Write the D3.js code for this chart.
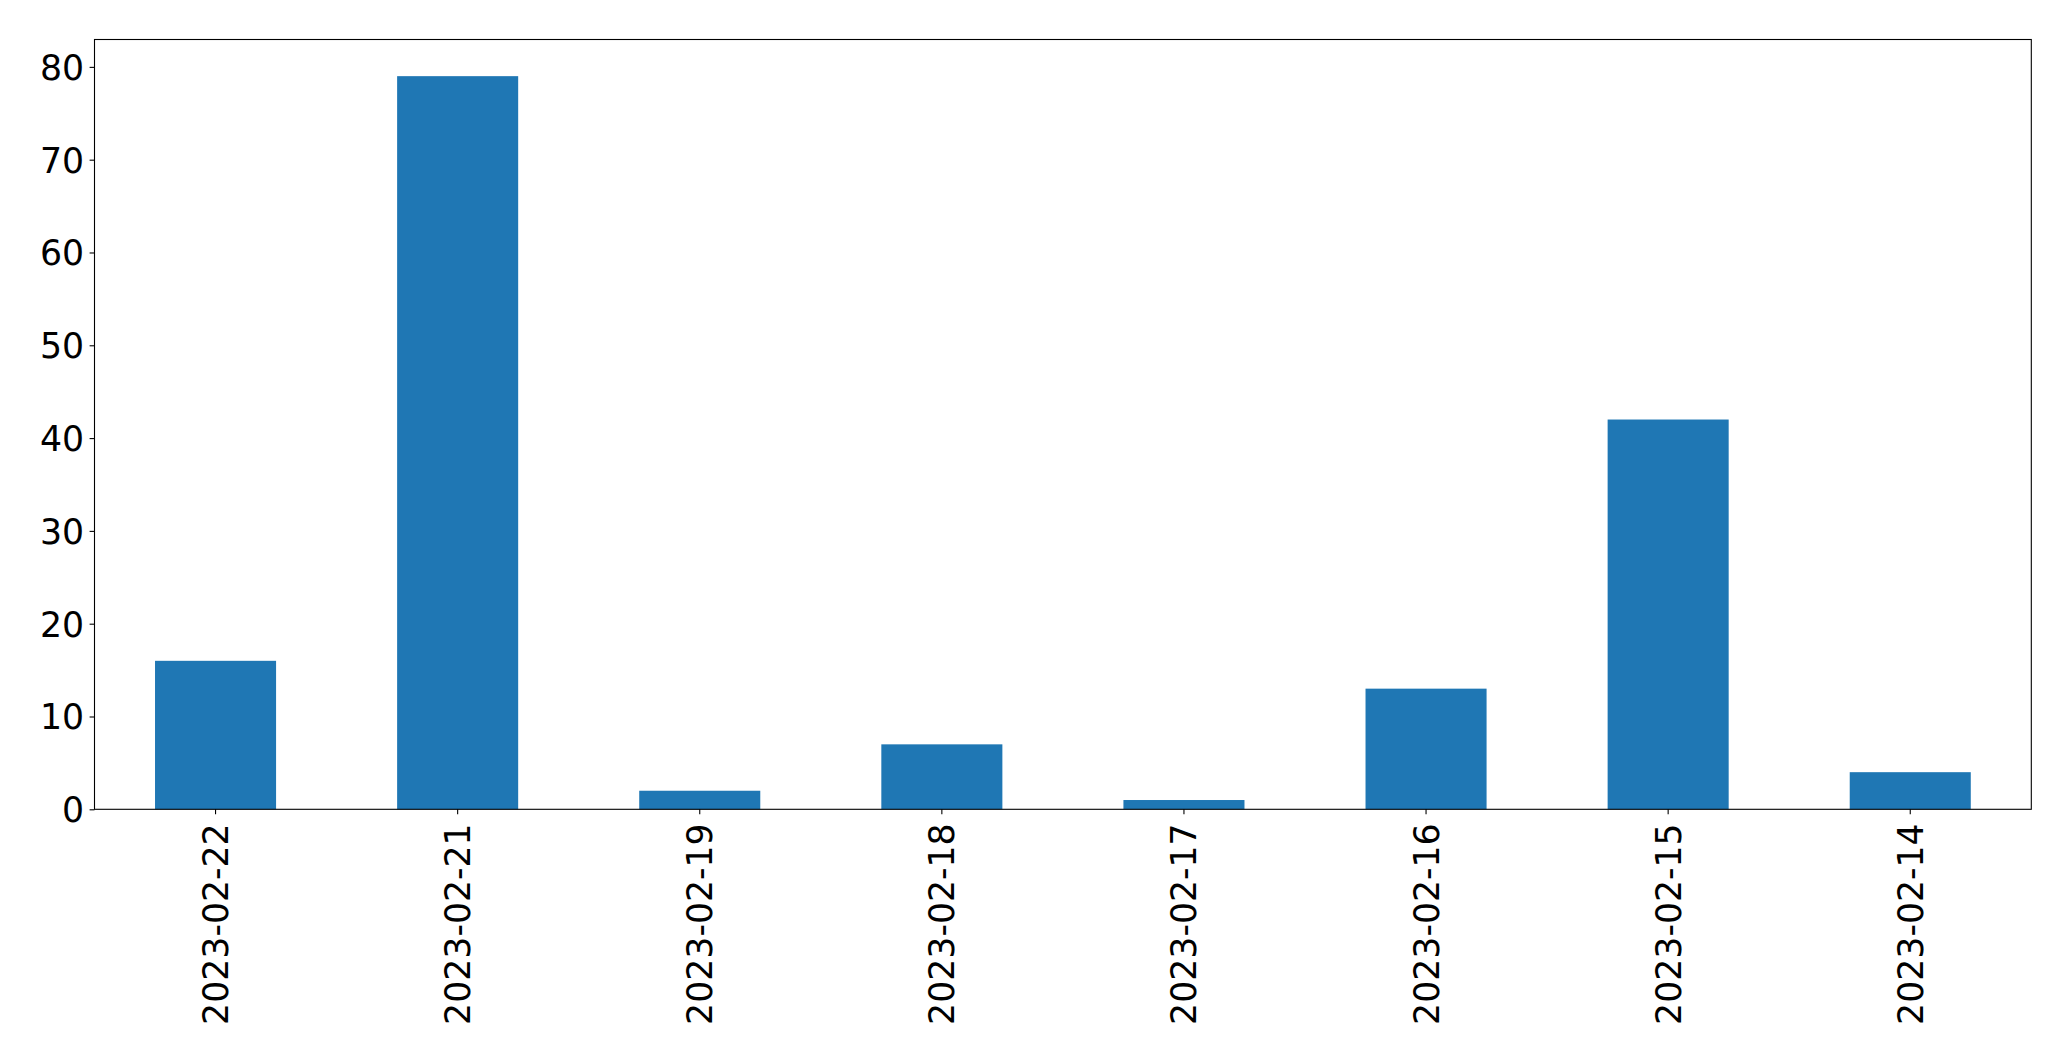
<!DOCTYPE html>
<html>
<head>
<meta charset="utf-8">
<script src="https://cdn.jsdelivr.net/npm/d3@7"></script>
<style>
  html, body { margin: 0; padding: 0; background: #fff; }
  svg { display: block; }
</style>
</head>
<body>
<script>
const categories = ["2023-02-22", "2023-02-21", "2023-02-19", "2023-02-18", "2023-02-17", "2023-02-16", "2023-02-15", "2023-02-14"];
const values = [16, 79, 2, 7, 1, 13, 42, 4];
const yTicks = [0, 10, 20, 30, 40, 50, 60, 70, 80];

const W = 2071, H = 1061;
const plotLeft = 94.5, plotRight = 2031.3, plotTop = 39.5, plotBottom = 809.3;

const svg = d3.select("body").append("svg").attr("width", W).attr("height", H);

const x = d3.scaleBand().domain(categories).range([plotLeft, plotRight]).paddingInner(0.5).paddingOuter(0.25);
const y = d3.scaleLinear().domain([0, d3.max(values) * 1.05]).range([plotBottom, plotTop]);

svg.append("g").selectAll("rect").data(values).join("rect")
  .attr("x", (d, i) => x(categories[i]))
  .attr("width", x.bandwidth())
  .attr("y", d => y(d))
  .attr("height", d => y(0) - y(d))
  .attr("fill", "#1f77b4");

const font = "'DejaVu Sans', sans-serif";
const fs = 34.7;

// y axis
const yAxis = svg.append("g").attr("transform", `translate(${plotLeft},0)`)
  .call(d3.axisLeft(y).tickValues(yTicks).tickSize(4.9).tickPadding(5.5).tickFormat(d3.format("d")));
yAxis.select(".domain").remove();
yAxis.selectAll(".tick line").attr("stroke", "#000").attr("stroke-width", 1.1);
yAxis.selectAll(".tick text").attr("font-family", font).attr("font-size", fs).attr("fill", "#000").attr("dy", "0.36em");

// x axis
const xAxis = svg.append("g").attr("transform", `translate(0,${plotBottom})`)
  .call(d3.axisBottom(x).tickSize(4.9).tickPadding(0));
xAxis.select(".domain").remove();
xAxis.selectAll(".tick line").attr("stroke", "#000").attr("stroke-width", 1.1);
xAxis.selectAll(".tick text")
  .attr("font-family", font).attr("font-size", fs).attr("fill", "#000")
  .attr("text-anchor", "end")
  .attr("transform", "translate(0,14) rotate(-90)")
  .attr("x", 0).attr("y", 0).attr("dy", "0.36em");

// frame
svg.append("rect")
  .attr("x", plotLeft).attr("y", plotTop)
  .attr("width", plotRight - plotLeft).attr("height", plotBottom - plotTop)
  .attr("fill", "none").attr("stroke", "#000").attr("stroke-width", 1.1);
</script>
</body>
</html>
